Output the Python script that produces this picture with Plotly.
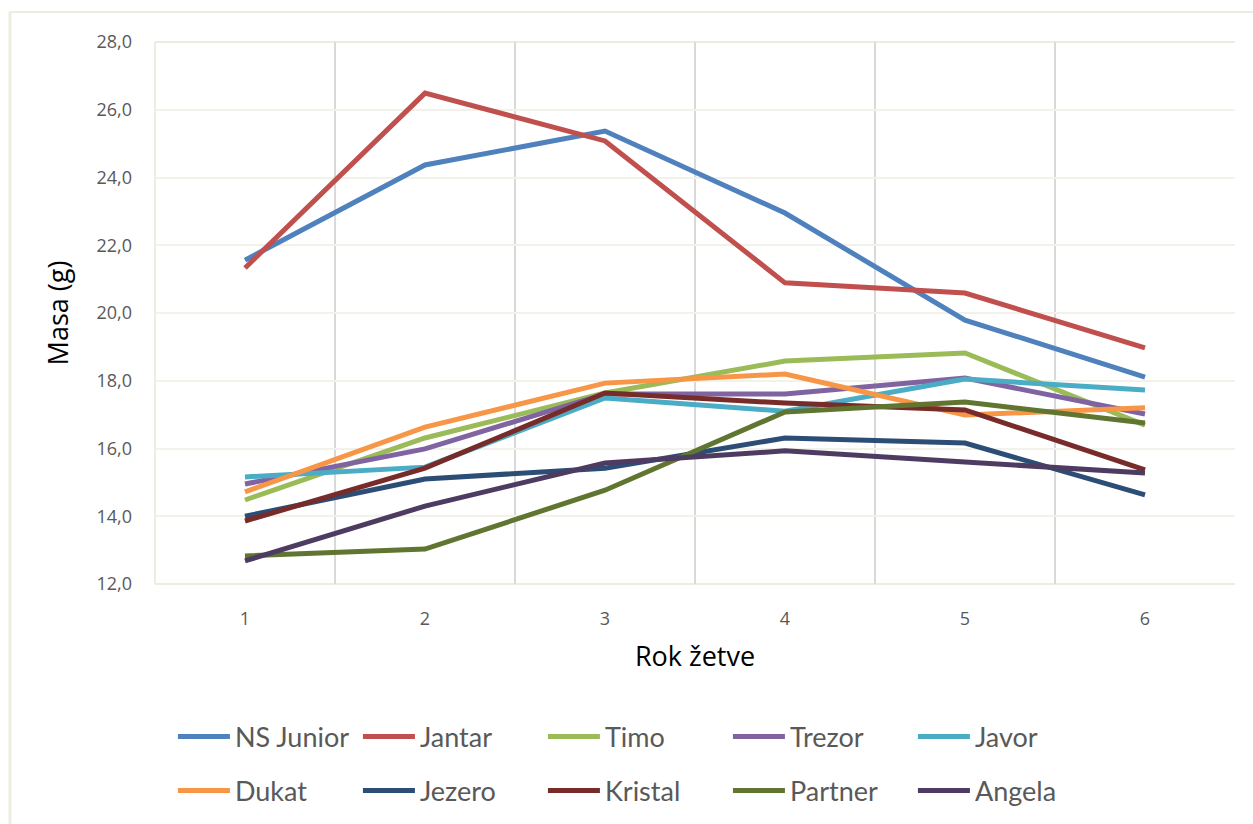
import plotly.graph_objects as go

harvest = [1, 2, 3, 4, 5, 6]
ns_junior = [21.56, 24.37, 25.37, 22.95, 19.79, 18.11]
jantar = [21.33, 26.49, 25.08, 20.89, 20.59, 18.97]
timo = [14.48, 16.31, 17.64, 18.58, 18.82, 16.69]
trezor = [14.95, 15.99, 17.61, 17.61, 18.08, 17.02]
javor = [15.16, 15.45, 17.49, 17.10, 18.05, 17.73]
dukat = [14.72, 16.63, 17.93, 18.20, 16.99, 17.20]
jezero = [14.00, 15.10, 15.42, 16.31, 16.16, 14.63]
kristal = [13.86, 15.42, 17.64, 17.34, 17.14, 15.37]
partner = [12.83, 13.03, 14.77, 17.08, 17.37, 16.75]
angela = [12.68, 14.30, 15.57, 15.93, 15.60, 15.28]

names = ["NS Junior", "Jantar", "Timo", "Trezor", "Javor",
         "Dukat", "Jezero", "Kristal", "Partner", "Angela"]
series = [ns_junior, jantar, timo, trezor, javor,
          dukat, jezero, kristal, partner, angela]
colors = ["#4F81BD", "#C0504D", "#9BBB59", "#8064A2", "#4BACC6",
          "#F79646", "#2C4D75", "#772C2A", "#5F7530", "#4D3B62"]

fig = go.Figure()
for i, (n, s, c) in enumerate(zip(names, series, colors)):
    fig.add_trace(go.Scatter(
        x=harvest, y=s, name=n, mode="lines",
        line=dict(color=c, width=5),
        legend="legend" if i < 5 else "legend2",
    ))

leg_common = dict(
    orientation="h", xanchor="left", yanchor="middle",
    font=dict(family="Lato, Open Sans, sans-serif", size=27, color="#595959"),
    itemwidth=52, entrywidth=118, entrywidthmode="pixels",
    bgcolor="rgba(0,0,0,0)", tracegroupgap=0,
)

fig.update_layout(
    width=1253, height=824,
    margin=dict(l=155, r=18, t=42, b=240, autoexpand=False),
    paper_bgcolor="white", plot_bgcolor="white",
    showlegend=True,
    legend=dict(x=0.0166, y=-0.2823, **leg_common),
    legend2=dict(x=0.0166, y=-0.3819, **leg_common),
    xaxis=dict(
        range=[0.5, 6.5], tickvals=harvest, ticktext=[str(v) for v in harvest],
        showgrid=False, zeroline=False, showline=False,
        tickfont=dict(family="Open Sans, sans-serif", size=18, color="#595959"),
        ticks="", ticklabelstandoff=22,
        minor=dict(tickvals=[1.5, 2.5, 3.5, 4.5, 5.5, 6.5], showgrid=True,
                   gridcolor="#D9D9D9", gridwidth=2, ticks=""),
        title=dict(text="Rok žetve", standoff=18,
                   font=dict(family="Open Sans, sans-serif", size=27, color="#000000")),
    ),
    yaxis=dict(
        range=[12, 28], dtick=2, tickformat=".1f",
        showgrid=True, gridcolor="#F2F1EA", gridwidth=1.5,
        zeroline=False, showline=False, ticks="",
        tickfont=dict(family="Open Sans, sans-serif", size=18, color="#595959"),
        ticklabelstandoff=22,
        title=dict(text="Masa (g)", standoff=20,
                   font=dict(family="Open Sans, sans-serif", size=27, color="#000000")),
    ),
    separators=",.",
    shapes=[
        dict(type="line", xref="paper", yref="paper", x0=0, x1=0, y0=0, y1=1,
             line=dict(color="#EEECE1", width=2), layer="below"),
        dict(type="line", xref="paper", yref="paper", x0=0, x1=1, y0=1, y1=1,
             line=dict(color="#EEECE1", width=2), layer="below"),
        dict(type="line", xref="paper", yref="paper", x0=0, x1=1, y0=0, y1=0,
             line=dict(color="#EEECE1", width=2), layer="below"),
        dict(type="line", xref="paper", yref="paper", x0=-0.1343, x1=1.02,
             y0=1.0554, y1=1.0554, line=dict(color="#EEECE1", width=2)),
        dict(type="line", xref="paper", yref="paper", x0=-0.1343, x1=-0.1343,
             y0=1.0554, y1=-0.45, line=dict(color="#EEECE1", width=3)),
    ],
)

fig.write_html("out.html")
